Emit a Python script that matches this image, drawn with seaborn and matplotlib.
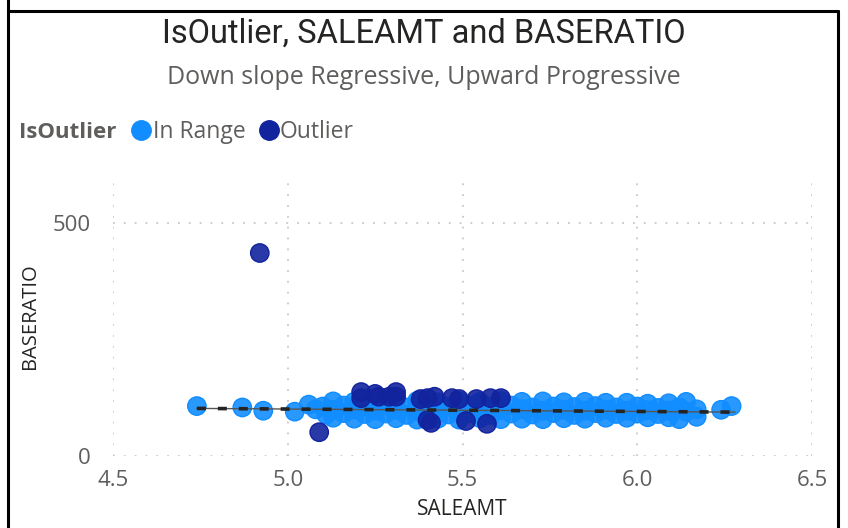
import numpy as np
import pandas as pd
import matplotlib
matplotlib.use("Agg")
import matplotlib.pyplot as plt
from matplotlib.lines import Line2D
import seaborn as sns

# ---------------- data ----------------
in_x = [4.74, 4.87, 4.93, 5.02, 5.06, 5.08, 5.11,
        5.10, 5.13, 5.13, 5.13, 5.16, 5.16, 5.19, 5.19, 5.19,
        5.22, 5.22, 5.25, 5.25, 5.25, 5.28, 5.28, 5.31, 5.31, 5.31,
        5.34, 5.34, 5.37, 5.37, 5.37, 5.40, 5.40, 5.43, 5.43, 5.43,
        5.46, 5.46, 5.49, 5.49, 5.49, 5.52, 5.52, 5.55, 5.55, 5.55,
        5.58, 5.58, 5.61, 5.61, 5.61, 5.64, 5.64, 5.67, 5.67, 5.67,
        5.70, 5.70, 5.73, 5.73, 5.73, 5.76, 5.76, 5.79, 5.79, 5.79,
        5.82, 5.82, 5.85, 5.85, 5.85, 5.88, 5.88, 5.91, 5.91, 5.91,
        5.94, 5.94, 5.97, 5.97, 5.97, 6.00, 6.00, 6.03, 6.03, 6.03,
        6.06, 6.06, 6.09, 6.09, 6.09, 6.12, 6.12, 6.14, 6.14, 6.17, 6.17,
        6.24, 6.27]
in_y = [107, 104, 97, 95, 110, 100, 89,
        106, 117, 99, 82, 108, 92, 116, 100, 80,
        106, 90, 118, 97, 79, 108, 91, 116, 99, 81,
        104, 88, 118, 97, 78, 108, 91, 115, 100, 80,
        105, 89, 117, 97, 78, 108, 92, 116, 99, 81,
        105, 88, 118, 98, 79, 108, 91, 116, 100, 80,
        104, 89, 117, 97, 79, 106, 92, 115, 99, 81,
        105, 88, 116, 97, 80, 107, 92, 114, 99, 82,
        104, 90, 114, 97, 82, 106, 91, 112, 98, 83,
        103, 90, 113, 97, 83, 104, 79, 116, 95, 100, 84,
        99, 107]

out_x = [4.92, 5.09, 5.21, 5.21, 5.25, 5.26, 5.29, 5.31, 5.31,
         5.38, 5.40, 5.42, 5.47, 5.49, 5.54, 5.58, 5.61,
         5.40, 5.41, 5.51, 5.57]
out_y = [435, 51, 137, 124, 133, 127, 127, 137, 127,
         122, 124, 127, 124, 122, 122, 124, 124,
         77, 71, 75, 69]

trend_x = [4.74, 6.28]
trend_y = [102, 94]

categories = ["In Range", "Outlier"]
palette = {"In Range": "#118DFF", "Outlier": "#12239E"}
x_ticks = [4.5, 5.0, 5.5, 6.0, 6.5]
y_ticks = [0, 500]

df = pd.DataFrame({
    "SALEAMT": in_x + out_x,
    "BASERATIO": in_y + out_y,
    "IsOutlier": ["In Range"] * len(in_x) + ["Outlier"] * len(out_x),
})
trend = pd.DataFrame({"SALEAMT": trend_x, "BASERATIO": trend_y})

# ---------------- figure ----------------
sns.set_theme(style="white")
plt.rcParams["font.family"] = ["Open Sans", "DejaVu Sans"]

fig = plt.figure(figsize=(8.48, 5.28), dpi=100)
ax = fig.add_axes([113 / 848, 1 - 456 / 528, (812 - 113) / 848, (456 - 176) / 528])

sns.scatterplot(data=df, x="SALEAMT", y="BASERATIO", hue="IsOutlier",
                hue_order=categories, palette=palette, s=175,
                linewidth=1, ax=ax, legend=False, zorder=3)
for coll in ax.collections:
    fc = np.array(coll.get_facecolors())
    ec = fc.copy()
    fc[:, 3] = 0.9
    ec[:, 3] = 1.0
    coll.set_facecolors(fc)
    coll.set_edgecolors(ec)

sns.lineplot(data=trend, x="SALEAMT", y="BASERATIO", color="#555555",
             linewidth=1.0, ax=ax, zorder=4)
sns.lineplot(data=trend, x="SALEAMT", y="BASERATIO", color="#252423",
             linewidth=2.6, dashes=False, ax=ax, zorder=5)
ax.lines[-1].set_dashes((2.5, 3.3))

ax.set_xlim(4.5, 6.5)
ax.set_ylim(0, 600)
ax.set_xticks(x_ticks)
ax.set_xticklabels([f"{v:.1f}" for v in x_ticks])
ax.set_yticks(y_ticks)
ax.set_yticklabels([str(v) for v in y_ticks])
for s in ax.spines.values():
    s.set_visible(False)
ax.grid(True, color="#C8C8C8", linestyle=(0, (1, 5)), linewidth=1.3)
ax.tick_params(axis="both", length=0, labelsize=16, labelcolor="#605E5C")
ax.tick_params(axis="x", pad=10)
ax.tick_params(axis="y", pad=16)

ax.set_xlabel("SALEAMT", fontsize=15, color="#252423", labelpad=6)
ax.set_ylabel("BASERATIO", fontsize=14.5, color="#252423", labelpad=9)

# titles
fig.text(424 / 848, 1 - 34 / 528, "IsOutlier, SALEAMT and BASERATIO",
         ha="center", va="center", fontsize=23.5, color="#252423",
         family=["Roboto", "DejaVu Sans"])
fig.text(424 / 848, 1 - 77 / 528, "Down slope Regressive, Upward Progressive",
         ha="center", va="center", fontsize=18, color="#605E5C")

# legend
fig.text(19 / 848, 1 - 132 / 528, "IsOutlier", ha="left", va="center",
         fontsize=16, fontweight="bold", color="#605E5C")
handles = [Line2D([], [], marker="o", linestyle="", markersize=14,
                  markerfacecolor=palette[c], markeredgecolor=palette[c])
           for c in categories]
fig.legend(handles, categories, loc="center left",
           bbox_to_anchor=(130 / 848, 1 - 132 / 528), ncol=2, frameon=False,
           handletextpad=0.0, columnspacing=0.5, handlelength=1.0,
           prop={"size": 16.5}, labelcolor="#605E5C", borderaxespad=0,
           borderpad=0)

# frame border
fig.add_artist(Line2D([7.5 / 848, 7.5 / 848], [0, 1], color="black", lw=2.2,
                      transform=fig.transFigure))
fig.add_artist(Line2D([7.5 / 848, 838 / 848], [1 - 10.5 / 528, 1 - 10.5 / 528],
                      color="black", lw=2.2, transform=fig.transFigure))
fig.add_artist(Line2D([838 / 848, 838 / 848], [0, 1 - 10.5 / 528], color="black",
                      lw=2.2, transform=fig.transFigure))

fig.savefig("out.png", dpi=100)
